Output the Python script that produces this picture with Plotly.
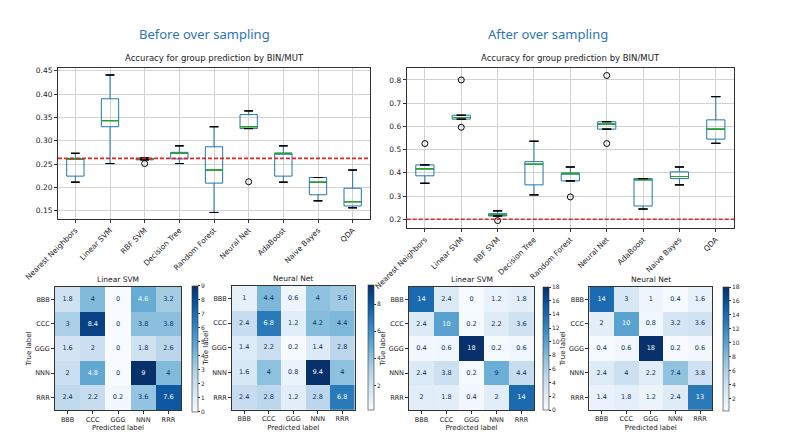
import plotly.graph_objects as go
import plotly.express as px

# the page body adds an 8px margin; the figure is sized to fill the rest of the window
OFF = 8
W, H = 791 - OFF, 439 - OFF

models = ["Nearest Neighbors", "Linear SVM", "RBF SVM", "Decision Tree", "Random Forest",
          "Neural Net", "AdaBoost", "Naive Bayes", "QDA"]

# Before over sampling: box statistics
before_low = [0.211, 0.251, 0.259, 0.251, 0.146, 0.326, 0.211, 0.171, 0.156]
before_q1 = [0.224, 0.330, 0.259, 0.261, 0.209, 0.326, 0.224, 0.184, 0.160]
before_med = [0.260, 0.343, 0.260, 0.273, 0.237, 0.330, 0.273, 0.211, 0.169]
before_q3 = [0.262, 0.390, 0.262, 0.275, 0.287, 0.356, 0.273, 0.221, 0.198]
before_high = [0.273, 0.441, 0.263, 0.289, 0.330, 0.364, 0.289, 0.221, 0.237]
before_out_x = ["RBF SVM", "Neural Net"]
before_out_y = [0.251, 0.212]
before_baseline = 0.262

# After over sampling: box statistics
after_low = [0.355, 0.631, 0.214, 0.305, 0.365, 0.588, 0.244, 0.348, 0.527]
after_q1 = [0.387, 0.631, 0.214, 0.348, 0.365, 0.588, 0.257, 0.375, 0.545]
after_med = [0.417, 0.638, 0.218, 0.437, 0.398, 0.610, 0.370, 0.384, 0.588]
after_q3 = [0.434, 0.648, 0.224, 0.448, 0.398, 0.620, 0.375, 0.404, 0.628]
after_high = [0.434, 0.648, 0.236, 0.536, 0.425, 0.620, 0.375, 0.425, 0.728]
after_out_x = ["Nearest Neighbors", "Linear SVM", "Linear SVM", "RBF SVM", "Random Forest",
               "Neural Net", "Neural Net"]
after_out_y = [0.526, 0.800, 0.596, 0.194, 0.296, 0.819, 0.526]
after_baseline = 0.2

classes = ["BBB", "CCC", "GGG", "NNN", "RRR"]

cm_before_svm = [[1.8, 4, 0, 4.6, 3.2],
                 [3, 8.4, 0, 3.8, 3.8],
                 [1.6, 2, 0, 1.8, 2.6],
                 [2, 4.8, 0, 9, 4],
                 [2.4, 2.2, 0.2, 3.6, 7.6]]
cm_before_nn = [[1, 4.4, 0.6, 4, 3.6],
                [2.4, 6.8, 1.2, 4.2, 4.4],
                [1.4, 2.2, 0.2, 1.4, 2.8],
                [1.6, 4, 0.8, 9.4, 4],
                [2.4, 2.8, 1.2, 2.8, 6.8]]
cm_after_svm = [[14, 2.4, 0, 1.2, 1.8],
                [2.4, 10, 0.2, 2.2, 3.6],
                [0.4, 0.6, 18, 0.2, 0.6],
                [2.4, 3.8, 0.2, 9, 4.4],
                [2, 1.8, 0.4, 2, 14]]
cm_after_nn = [[14, 3, 1, 0.4, 1.6],
               [2, 10, 0.8, 3.2, 3.6],
               [0.4, 0.6, 18, 0.2, 0.6],
               [2.4, 4, 2.2, 7.4, 3.8],
               [1.4, 1.8, 1.2, 2.4, 13]]

FONT = "DejaVu Sans"
BLUE = "#1f77b4"
GREEN = "#2ca02c"


def px2x(p):
    return (p - OFF) / W


def px2y(p):
    return 1 - (p - OFF) / H


fig = go.Figure()


def add_boxes(xa, ya, low, q1, med, q3, high, ox, oy, base):
    fig.add_trace(go.Box(x=models, q1=q1, median=med, q3=q3, lowerfence=low, upperfence=high,
                         xaxis=xa, yaxis=ya, width=0.5, whiskerwidth=0,
                         line=dict(color=BLUE, width=1), fillcolor="rgba(0,0,0,0)",
                         showlegend=False, hoverinfo="skip"))
    for vals, col, wd in [(med, GREEN, 0.5), (high, "black", 0.25), (low, "black", 0.25)]:
        fig.add_trace(go.Box(x=models, q1=vals, median=vals, q3=vals, lowerfence=vals, upperfence=vals,
                             xaxis=xa, yaxis=ya, width=wd, whiskerwidth=0,
                             line=dict(color=col, width=1), fillcolor="rgba(0,0,0,0)",
                             showlegend=False, hoverinfo="skip"))
    fig.add_trace(go.Scatter(x=ox, y=oy, xaxis=xa, yaxis=ya, mode="markers",
                             marker=dict(symbol="circle-open", color="black", size=6, line=dict(width=1)),
                             showlegend=False, hoverinfo="skip"))
    fig.add_shape(type="line", xref=xa + " domain", yref=ya, x0=0, x1=1, y0=base, y1=base,
                  line=dict(color="#e3242b", width=1.6, dash="4px,2px"))


add_boxes("x", "y", before_low, before_q1, before_med, before_q3, before_high,
          before_out_x, before_out_y, before_baseline)
add_boxes("x2", "y2", after_low, after_q1, after_med, after_q3, after_high,
          after_out_x, after_out_y, after_baseline)

box_axis_common = dict(showgrid=True, gridcolor="#d2d2d2", gridwidth=0.8, showline=True, mirror=True,
                       linecolor="#333", linewidth=1, ticks="outside", ticklen=3, tickcolor="#333",
                       tickfont=dict(family=FONT, size=7.5, color="#222"), zeroline=False,
                       automargin=False)

fig.update_layout(
    xaxis=dict(domain=[px2x(58), px2x(370)], anchor="y", type="category", range=[-0.5, 8.5],
               tickangle=-45, **box_axis_common),
    yaxis=dict(domain=[px2y(219), px2y(68)], anchor="x", range=[0.132, 0.456], dtick=0.05,
               tickformat=".2f", **box_axis_common),
    xaxis2=dict(domain=[px2x(406.7), px2x(734)], anchor="y2", type="category", range=[-0.5, 8.5],
                tickangle=-45, **box_axis_common),
    yaxis2=dict(domain=[px2y(228.3), px2y(68.3)], anchor="x2", range=[0.161, 0.85], dtick=0.1,
                tickformat=".1f", **box_axis_common),
)

# heatmaps
heat_specs = [
    (cm_before_svm, "Linear SVM", 3, (55, 181), (287, 410), 192.3, (286, 411.7), 0, 9, 1),
    (cm_before_nn, "Neural Net", 4, (232, 354.5), (286, 409.7), 368.3, (285, 410), None, None, 2),
    (cm_after_svm, "Linear SVM", 5, (409, 534), (287, 410), 543.3, (286.7, 410), 0, 18, 2),
    (cm_after_nn, "Neural Net", 6, (589.3, 712.3), (287, 409.7), 723.3, (286.7, 411), None, None, 2),
]

blues = px.colors.sequential.Blues

for z, title, k, (xl, xr), (yt, yb), cbx, (cbt, cbb), zmin, zmax, dt in heat_specs:
    xa, ya = f"x{k}", f"y{k}"
    flat = [v for row in z for v in row]
    lo = min(flat) if zmin is None else zmin
    hi = max(flat) if zmax is None else zmax
    fig.add_trace(go.Heatmap(z=z, x=classes, y=classes, xaxis=xa, yaxis=ya, colorscale=blues,
                             zmin=lo, zmax=hi, hoverinfo="skip",
                             colorbar=dict(x=px2x(cbx), xanchor="left", y=px2y(cbb), yanchor="bottom",
                                           len=(cbb - cbt) / H, lenmode="fraction", thickness=5.5,
                                           outlinewidth=0.6, outlinecolor="#333", ticks="outside",
                                           ticklen=2, tickcolor="#333", dtick=dt, xpad=0, ypad=0,
                                           tickfont=dict(family=FONT, size=6, color="#333"))))
    thr = (min(flat) + max(flat)) / 2
    tx, ty, tt, tc = [], [], [], []
    for i, row in enumerate(z):
        for j, v in enumerate(row):
            tx.append(classes[j])
            ty.append(classes[i])
            tt.append(f"{v:g}")
            tc.append("#f7fbff" if v > thr else "#08306b")
    fig.add_trace(go.Scatter(x=tx, y=ty, text=tt, mode="text", xaxis=xa, yaxis=ya,
                             textfont=dict(family=FONT, size=6.5, color=tc),
                             showlegend=False, hoverinfo="skip"))
    ax_common = dict(showline=True, mirror=True, linecolor="#333", linewidth=0.8, ticks="outside",
                     ticklen=3, tickcolor="#333", showgrid=False, zeroline=False, automargin=False,
                     tickfont=dict(family=FONT, size=6.5, color="#222"))
    fig.update_layout(**{
        f"xaxis{k}": dict(domain=[px2x(xl), px2x(xr)], anchor=ya, type="category",
                          title=dict(text="Predicted label", standoff=2,
                                     font=dict(family=FONT, size=7, color="#222")), **ax_common),
        f"yaxis{k}": dict(domain=[px2y(yb), px2y(yt)], anchor=xa, type="category", autorange="reversed",
                          title=dict(text="True label", standoff=2,
                                     font=dict(family=FONT, size=7, color="#222")), **ax_common),
    })
    fig.add_annotation(text=title, xref="paper", yref="paper", x=px2x((xl + xr) / 2), y=px2y(yt - 1),
                       xanchor="center", yanchor="bottom", showarrow=False,
                       font=dict(family=FONT, size=7.5, color="#222"))

# titles
for txt, cx in [("Accuracy for group prediction by BIN/MUT", (58 + 370) / 2),
                ("Accuracy for group prediction by BIN/MUT", (406.7 + 734) / 2)]:
    fig.add_annotation(text=txt, xref="paper", yref="paper", x=px2x(cx), y=px2y(65),
                       xanchor="center", yanchor="bottom", showarrow=False,
                       font=dict(family=FONT, size=8.5, color="#222"))

for txt, cx in [("Before over sampling", 205), ("After over sampling", 548)]:
    fig.add_annotation(text=txt, xref="paper", yref="paper", x=px2x(cx), y=px2y(34),
                       xanchor="center", yanchor="middle", showarrow=False,
                       font=dict(family="Noto Sans", size=13, color="#2e75b6"))

fig.update_layout(template="none", width=W, height=H, margin=dict(l=0, r=0, t=0, b=0),
                  paper_bgcolor="white", plot_bgcolor="white", boxmode="overlay",
                  showlegend=False)

fig.write_html("out.html")
